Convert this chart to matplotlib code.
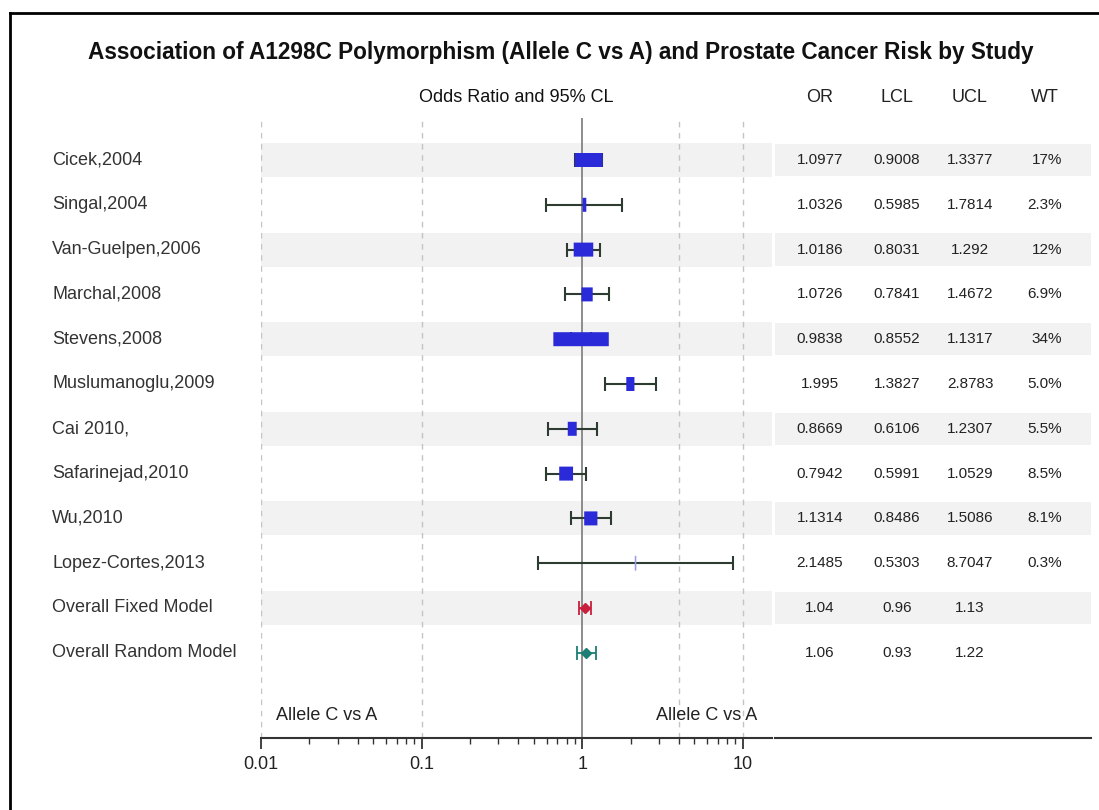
import numpy as np
import matplotlib.pyplot as plt
from matplotlib.lines import Line2D
from matplotlib.patches import Rectangle
from matplotlib import transforms
from matplotlib.ticker import NullFormatter

plt.rcParams['font.family'] = ['Liberation Sans', 'DejaVu Sans']

TITLE = "Association of A1298C Polymorphism (Allele C vs A) and Prostate Cancer Risk by Study"

studies = ["Cicek,2004", "Singal,2004", "Van-Guelpen,2006", "Marchal,2008",
           "Stevens,2008", "Muslumanoglu,2009", "Cai 2010,", "Safarinejad,2010",
           "Wu,2010", "Lopez-Cortes,2013"]
odds = [1.0977, 1.0326, 1.0186, 1.0726, 0.9838, 1.995, 0.8669, 0.7942, 1.1314, 2.1485]
lcl = [0.9008, 0.5985, 0.8031, 0.7841, 0.8552, 1.3827, 0.6106, 0.5991, 0.8486, 0.5303]
ucl = [1.3377, 1.7814, 1.292, 1.4672, 1.1317, 2.8783, 1.2307, 1.0529, 1.5086, 8.7047]
weights = [17, 2.3, 12, 6.9, 34, 5.0, 5.5, 8.5, 8.1, 0.3]

models = ["Overall Fixed Model", "Overall Random Model"]
model_or = [1.04, 1.06]
model_lcl = [0.96, 0.93]
model_ucl = [1.13, 1.22]
model_colors = ["#c8203c", "#1b7f76"]

grid_lines = [0.01, 0.1, 4, 10]
ticks = [0.01, 0.1, 1, 10]
tick_labels = ["0.01", "0.1", "1", "10"]
columns = ["OR", "LCL", "UCL", "WT"]

W, H = 1099, 810
ROW0, PITCH = 160, 44.8


def fx(px):
    return px / W


def fy(py):
    return 1 - py / H


def row_y(py):
    # pixel row -> data y
    return (py - ROW0) / PITCH


fig = plt.figure(figsize=(W / 100, H / 100), dpi=100)

n_rows = len(studies) + len(models)
y_top, y_bot = row_y(118), row_y(738)

# forest panel
ax = fig.add_axes([fx(261), fy(738), (772 - 261) / W, (738 - 118) / H])
ax.set_xscale('log')
xmin, xmax = 0.01, 15.2
ax.set_xlim(xmin, xmax)
ax.set_ylim(y_bot, y_top)

for i in range(0, n_rows, 2):
    ax.axhspan(i - 0.38, i + 0.38, color='#f2f2f2', lw=0, zorder=0)

for v in grid_lines:
    ax.axvline(v, color='#c4c4c4', lw=1, ls=(0, (4, 4)), zorder=1)
ax.axvline(1, color='#8c8c8c', lw=1.4, zorder=1)

rows = np.arange(len(studies))
o = np.array(odds)
ax.errorbar(o, rows, xerr=[o - np.array(lcl), np.array(ucl) - o], fmt='none',
            ecolor='#2e3b30', elinewidth=1.5, capsize=4.7, capthick=1.5, zorder=2)

# weight boxes: width grows with study weight, height fixed
decade_px = (772 - 261) / np.log10(xmax / xmin)
box_h = 14 / PITCH
for r, v, w in zip(rows, odds, weights):
    half = 1.63 * w / 2 / decade_px
    left = v * 10 ** (-half)
    right = v * 10 ** half
    thin = w < 1
    ax.add_patch(Rectangle((left, r - box_h / 2), right - left, box_h,
                           color='#9c9cec' if thin else '#2a2ad8',
                           lw=0.8 if thin else 0, snap=False, zorder=3))

for k, (v, lo, hi, c) in enumerate(zip(model_or, model_lcl, model_ucl, model_colors)):
    r = len(studies) + k
    ax.errorbar([v], [r], xerr=[[v - lo], [hi - v]], fmt='D', color=c, ms=5,
                elinewidth=1.3, capsize=4.7, capthick=1.3, zorder=3)

ax.set_xticks(ticks)
ax.set_xticklabels(tick_labels)
ax.xaxis.set_minor_formatter(NullFormatter())
ax.tick_params(axis='x', which='major', length=8, width=1.3, labelsize=13,
               pad=5, color='#333333', labelcolor='#222222')
ax.tick_params(axis='x', which='minor', length=4, width=1, color='#333333')
ax.set_yticks([])
for s in ['left', 'right', 'top']:
    ax.spines[s].set_visible(False)
ax.spines['bottom'].set_linewidth(1.5)
ax.spines['bottom'].set_color('#333333')
ax.patch.set_alpha(0)

ax_tr = transforms.blended_transform_factory(ax.transAxes, ax.transData)
ax.text(0.5, row_y(97), "Odds Ratio and 95% CL", transform=ax_tr,
        ha='center', va='center', fontsize=13, color='#111111')
ax.text((276 - 261) / 511, row_y(716), "Allele C vs A", transform=ax_tr,
        ha='left', va='center', fontsize=13, color='#222222')
ax.text((757 - 261) / 511, row_y(716), "Allele C vs A", transform=ax_tr,
        ha='right', va='center', fontsize=13, color='#222222')

# row labels
lab_tr = transforms.blended_transform_factory(fig.transFigure, ax.transData)
for r, name in enumerate(studies + models):
    fig.text(fx(52), r, name, transform=lab_tr, ha='left', va='center',
             fontsize=13, color='#333333')

# table panel
tb = fig.add_axes([fx(775), fy(738), (1091 - 775) / W, (738 - 118) / H])
tb.set_xlim(775, 1091)
tb.set_ylim(y_bot, y_top)
for i in range(0, n_rows, 2):
    tb.axhspan(i - 0.36, i + 0.36, color='#f2f2f2', lw=0, zorder=0)
tb.set_xticks([])
tb.set_yticks([])
for s in ['left', 'right', 'top']:
    tb.spines[s].set_visible(False)
tb.spines['bottom'].set_linewidth(1.5)
tb.spines['bottom'].set_color('#333333')

col_x = [820, 897, 970, 1045]
for x, c in zip(col_x, columns):
    tb.text(x, row_y(97), c, ha='center', va='center', fontsize=13, color='#222222')

all_or = odds + model_or
all_lcl = lcl + model_lcl
all_ucl = ucl + model_ucl
for r in range(n_rows):
    tb.text(col_x[0], r, str(all_or[r]), ha='center', va='center', fontsize=11, color='#222222')
    tb.text(col_x[1], r, str(all_lcl[r]), ha='center', va='center', fontsize=11, color='#222222')
    tb.text(col_x[2], r, str(all_ucl[r]), ha='center', va='center', fontsize=11, color='#222222')
for r, w in enumerate(weights):
    wt = f"{w:.0f}%" if w >= 10 else f"{w:.1f}%"
    tb.text(1062, r, wt, ha='right', va='center', fontsize=11, color='#222222')

fig.text(fx(561), fy(52), TITLE, ha='center', va='center', fontsize=16.3,
         fontweight='bold', color='#111111')

# outer frame (left and top edges only are visible)
fig.add_artist(Line2D([fx(10), fx(10)], [fy(13), 0], color='black', lw=2))
fig.add_artist(Line2D([fx(10), 1], [fy(13), fy(13)], color='black', lw=2))

fig.savefig('out.png', dpi=100)
